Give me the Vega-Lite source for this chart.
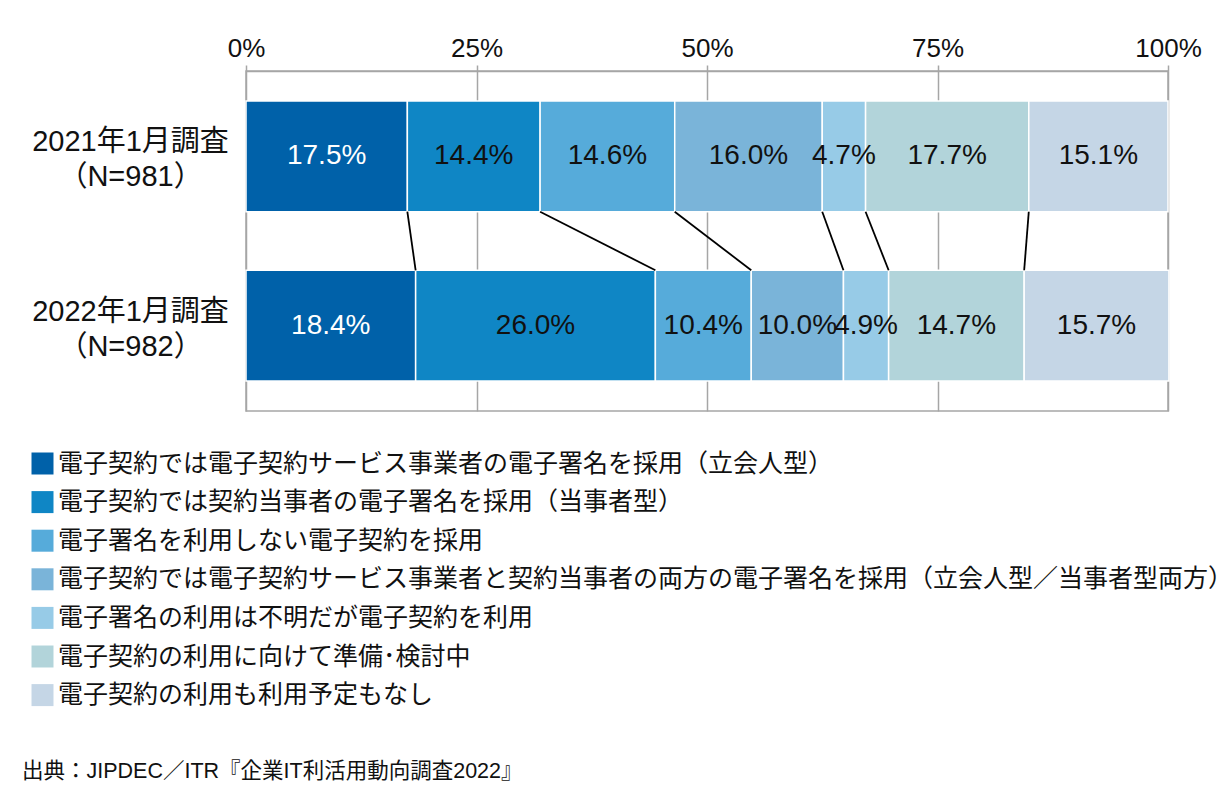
{
  "$schema": "https://vega.github.io/schema/vega-lite/v6.json",
  "width": 922,
  "height": 340,
  "autosize": {"type": "none"},
  "padding": {"left": 246, "top": 71, "right": 64, "bottom": 389},
  "background": "white",
  "config": {
    "font": "Liberation Sans, Noto Sans CJK JP, sans-serif",
    "view": {"stroke": "#a6a6a6", "strokeWidth": 1.5}
  },
  "title": {
    "text": "出典：JIPDEC／ITR『企業IT利活用動向調査2022』",
    "orient": "bottom",
    "anchor": "start",
    "frame": "group",
    "offset": 52,
    "dx": -224,
    "fontSize": 21.5,
    "fontWeight": "normal",
    "color": "#111111",
    "baseline": "top"
  },
  "datasets": {
    "shares": [
      {"survey": "2021年1月調査|（N=981）", "idx": 1, "cat": "電子契約では電子契約サービス事業者の電子署名を採用（立会人型）", "pct": 17.5, "label": "17.5%"},
      {"survey": "2021年1月調査|（N=981）", "idx": 2, "cat": "電子契約では契約当事者の電子署名を採用（当事者型）", "pct": 14.4, "label": "14.4%"},
      {"survey": "2021年1月調査|（N=981）", "idx": 3, "cat": "電子署名を利用しない電子契約を採用", "pct": 14.6, "label": "14.6%"},
      {"survey": "2021年1月調査|（N=981）", "idx": 4, "cat": "電子契約では電子契約サービス事業者と契約当事者の両方の電子署名を採用（立会人型／当事者型両方）", "pct": 16.0, "label": "16.0%"},
      {"survey": "2021年1月調査|（N=981）", "idx": 5, "cat": "電子署名の利用は不明だが電子契約を利用", "pct": 4.7, "label": "4.7%"},
      {"survey": "2021年1月調査|（N=981）", "idx": 6, "cat": "電子契約の利用に向けて準備･検討中", "pct": 17.7, "label": "17.7%"},
      {"survey": "2021年1月調査|（N=981）", "idx": 7, "cat": "電子契約の利用も利用予定もなし", "pct": 15.1, "label": "15.1%"},
      {"survey": "2022年1月調査|（N=982）", "idx": 1, "cat": "電子契約では電子契約サービス事業者の電子署名を採用（立会人型）", "pct": 18.4, "label": "18.4%"},
      {"survey": "2022年1月調査|（N=982）", "idx": 2, "cat": "電子契約では契約当事者の電子署名を採用（当事者型）", "pct": 26.0, "label": "26.0%"},
      {"survey": "2022年1月調査|（N=982）", "idx": 3, "cat": "電子署名を利用しない電子契約を採用", "pct": 10.4, "label": "10.4%"},
      {"survey": "2022年1月調査|（N=982）", "idx": 4, "cat": "電子契約では電子契約サービス事業者と契約当事者の両方の電子署名を採用（立会人型／当事者型両方）", "pct": 10.0, "label": "10.0%"},
      {"survey": "2022年1月調査|（N=982）", "idx": 5, "cat": "電子署名の利用は不明だが電子契約を利用", "pct": 4.9, "label": "4.9%"},
      {"survey": "2022年1月調査|（N=982）", "idx": 6, "cat": "電子契約の利用に向けて準備･検討中", "pct": 14.7, "label": "14.7%"},
      {"survey": "2022年1月調査|（N=982）", "idx": 7, "cat": "電子契約の利用も利用予定もなし", "pct": 15.7, "label": "15.7%"}
    ],
    "links": [
      {"a": 17.5, "b": 18.4},
      {"a": 31.9, "b": 44.4},
      {"a": 46.5, "b": 54.8},
      {"a": 62.5, "b": 64.8},
      {"a": 67.2, "b": 69.7},
      {"a": 84.9, "b": 84.4}
    ]
  },
  "layer": [
    {
      "data": {"name": "shares"},
      "mark": {"type": "bar", "stroke": "white", "strokeWidth": 1.5},
      "encoding": {
        "y": {
          "field": "survey", "type": "nominal", "title": null,
          "scale": {"paddingInner": 0.346, "paddingOuter": 0.178},
          "axis": {
            "ticks": false, "domain": false, "labelFontSize": 29, "labelColor": "#111111",
            "labelAlign": "center", "labelBaseline": "middle", "labelPadding": 116,
            "labelExpr": "split(datum.label, '|')", "labelLineHeight": 35, "labelLimit": 400,
            "labelOffset": -14
          }
        },
        "x": {
          "field": "pct", "type": "quantitative", "stack": "zero", "title": null,
          "scale": {"domain": [0, 100], "nice": false},
          "axis": {
            "orient": "top", "values": [0, 25, 50, 75, 100], "labelExpr": "datum.value + '%'",
            "grid": true, "gridColor": "#a6a6a6", "gridWidth": 1.5,
            "domainColor": "#a6a6a6", "domainWidth": 1.5, "tickColor": "#a6a6a6", "tickWidth": 1.5,
            "tickSize": 6, "labelFontSize": 26, "labelColor": "#111111", "labelPadding": 4,
            "labelFlush": false
          }
        },
        "order": {"field": "idx", "type": "quantitative"},
        "color": {
          "field": "cat", "type": "nominal",
          "scale": {
            "domain": [
              "電子契約では電子契約サービス事業者の電子署名を採用（立会人型）",
              "電子契約では契約当事者の電子署名を採用（当事者型）",
              "電子署名を利用しない電子契約を採用",
              "電子契約では電子契約サービス事業者と契約当事者の両方の電子署名を採用（立会人型／当事者型両方）",
              "電子署名の利用は不明だが電子契約を利用",
              "電子契約の利用に向けて準備･検討中",
              "電子契約の利用も利用予定もなし"
            ],
            "range": ["#0061a9", "#0f86c5", "#56abda", "#7ab4d9", "#97cbe7", "#b2d4da", "#c5d6e6"]
          },
          "legend": {
            "title": null, "orient": "none", "legendX": -216, "legendY": 380, "direction": "vertical",
            "symbolType": "square", "symbolSize": 484, "symbolStrokeWidth": 0, "symbolOpacity": 1,
            "labelFontSize": 25, "labelColor": "#111111", "labelLimit": 1200, "labelOffset": 3,
            "rowPadding": 12.6, "padding": 0
          }
        }
      }
    },
    {
      "data": {"name": "links"},
      "mark": {"type": "rule", "color": "#000000", "strokeWidth": 1.8},
      "encoding": {
        "x": {"field": "a", "type": "quantitative"},
        "x2": {"field": "b"},
        "y": {"datum": "2021年1月調査|（N=981）", "type": "nominal", "bandPosition": 1},
        "y2": {"datum": "2022年1月調査|（N=982）", "bandPosition": 0}
      }
    },
    {
      "data": {"name": "shares"},
      "mark": {"type": "text", "fontSize": 28, "align": "center", "baseline": "middle"},
      "encoding": {
        "y": {"field": "survey", "type": "nominal"},
        "x": {"field": "pct", "type": "quantitative", "stack": "zero", "bandPosition": 0.5},
        "detail": {"field": "cat"},
        "order": {"field": "idx", "type": "quantitative"},
        "text": {"field": "label"},
        "color": {"condition": {"test": "datum.idx === 1", "value": "white"}, "value": "#111111"}
      }
    }
  ]
}
